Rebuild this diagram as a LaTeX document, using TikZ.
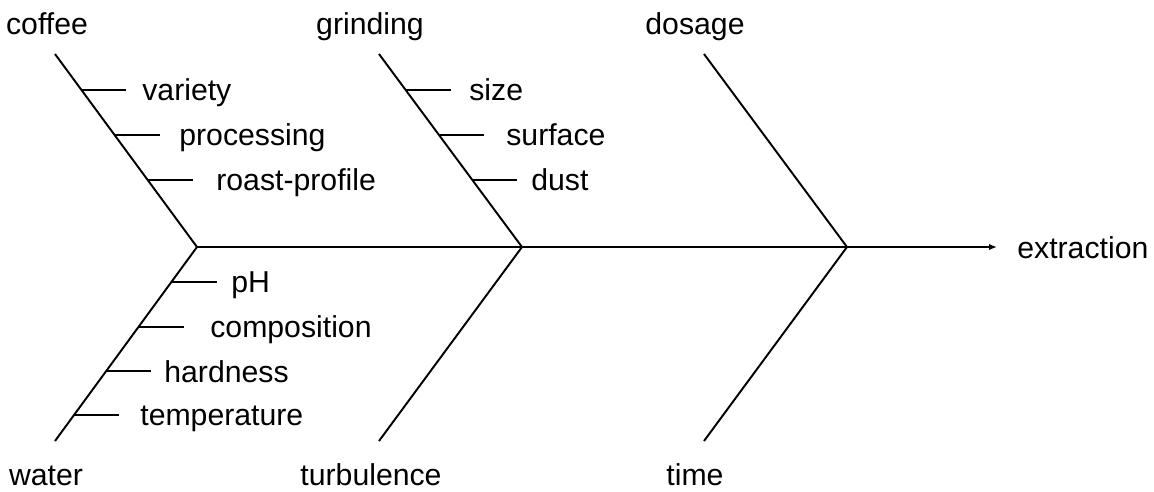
\documentclass[tikz,border=0pt]{standalone}
\usepackage{fontspec}
\setmainfont{Liberation Sans}
\usepackage{tikz}
\usetikzlibrary{arrows.meta, calc}
\definecolor{boneink}{HTML}{000000}
\tikzset{
  bone/.style={draw=boneink, line width=1.1pt},
  spine/.style={bone, -{Latex[length=1.6mm, width=1.3mm]}},
  rib/.style={draw=boneink, line width=1.1pt},
  cause/.style={font=\fontsize{17.2}{20}\selectfont, text=boneink, inner sep=0pt, anchor=base},
  factor/.style={font=\fontsize{17.2}{20}\selectfont, text=boneink, inner sep=0pt, anchor=base west}
}

\begin{document}
\begin{tikzpicture}[x=0.02cm, y=-0.02cm]
\useasboundingbox (0,0) rectangle (1154,491);
% spine
\coordinate (j1) at (197,247); \coordinate (j2) at (522,247);
\coordinate (j3) at (847,247); \coordinate (head) at (997,247);
\node[factor] (extraction) at (1017,258) {extraction};
\draw[spine] (j1)--(j2)--(j3)--(head);
% main causes
\coordinate (cf) at (55,54); \coordinate (gr) at (379,54); \coordinate (ds) at (704,54);
\coordinate (wa) at (55,441); \coordinate (tu) at (379,441); \coordinate (ti) at (704,441);
\node[cause] (coffee) at (47,34) {coffee};
\node[cause] (grinding) at (370,34) {grinding};
\node[cause] (dosage) at (695,34) {dosage};
\node[cause] (water) at (46,485) {water};
\node[cause] (turbulence) at (371,485) {turbulence};
\node[cause] (time) at (695,485) {time};
\draw[bone] (cf)--(j1); \draw[bone] (gr)--(j2); \draw[bone] (ds)--(j3);
\draw[bone] (wa)--(j1); \draw[bone] (tu)--(j2); \draw[bone] (ti)--(j3);
% sub causes
\coordinate (cf1) at ($(cf)!0.1865!(j1)$); \coordinate (cf2) at ($(cf)!0.4197!(j1)$);
\coordinate (cf3) at ($(cf)!0.6528!(j1)$);
\coordinate (gr1) at ($(gr)!0.1865!(j2)$); \coordinate (gr2) at ($(gr)!0.4197!(j2)$);
\coordinate (gr3) at ($(gr)!0.6528!(j2)$);
\coordinate (wa1) at ($(j1)!0.178!(wa)$); \coordinate (wa2) at ($(j1)!0.410!(wa)$);
\coordinate (wa3) at ($(j1)!0.641!(wa)$); \coordinate (wa4) at ($(j1)!0.864!(wa)$);
\node[factor] (variety) at (142,100.5) {variety};
\node[factor] (processing) at (179,145.5) {processing};
\node[factor] (roast) at (216,190.5) {roast-profile};
\node[factor] (size) at (469,100.5) {size};
\node[factor] (surface) at (506,145.5) {surface};
\node[factor] (dust) at (531,190.5) {dust};
\node[factor] (ph) at (231,292) {pH};
\node[factor] (composition) at (210,337) {composition};
\node[factor] (hardness) at (164,382) {hardness};
\node[factor] (temperature) at (140,425.5) {temperature};
\draw[rib] (cf1)--++(45,0); \draw[rib] (cf2)--++(45,0); \draw[rib] (cf3)--++(45,0);
\draw[rib] (gr1)--++(45,0); \draw[rib] (gr2)--++(45,0); \draw[rib] (gr3)--++(45,0);
\draw[rib] (wa1)--++(45,0); \draw[rib] (wa2)--++(45,0);
\draw[rib] (wa3)--++(45,0); \draw[rib] (wa4)--++(45,0);
\end{tikzpicture}
\end{document}
